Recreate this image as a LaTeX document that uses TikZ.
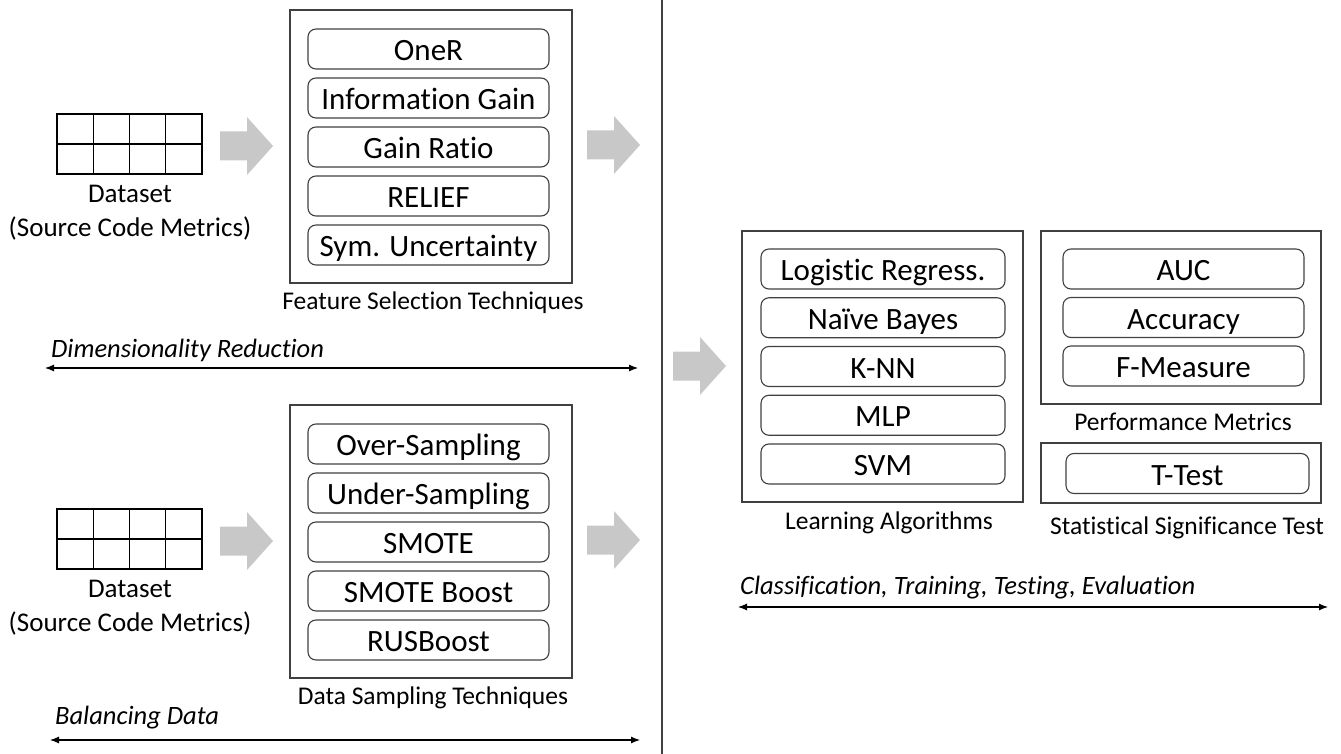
\documentclass[tikz,border=0pt]{standalone}
\usepackage{fontspec}
\setmainfont{Carlito}[Ligatures=NoCommon]
\usepackage{tikz}
\usetikzlibrary{arrows.meta}

\definecolor{boxline}{HTML}{404040}
\definecolor{arrowgray}{HTML}{C8C8C8}

\tikzset{
    outerbox/.style={draw=boxline, line width=1.3pt, minimum width=282pt, inner sep=0pt},
    itembox/.style={draw=boxline, line width=1.1pt, rounded corners=8pt,
        minimum width=241pt, minimum height=40pt, inner sep=0pt,
        text height=23pt, text depth=0pt, font=\fontsize{31}{36}\selectfont},
    caption/.style={font=\fontsize{25.5}{30}\selectfont},
    dslabel/.style={align=center, font=\fontsize{27}{34}\selectfont},
    phase/.style={anchor=west, inner sep=0pt, font=\fontsize{26.5}{30}\selectfont\itshape},
    phasespan/.style={{Latex[length=9pt,width=7pt]}-{Latex[length=9pt,width=7pt]}, line width=1.1pt},
    fatarrow/.pic={\fill[arrowgray] (0,-14.5) -- (27,-14.5) -- (27,-29) -- (53,0)
        -- (27,29) -- (27,14.5) -- (0,14.5) -- cycle;},
}

\begin{document}
\begin{tikzpicture}[x=1pt, y=-1pt]
    \useasboundingbox (0,0) rectangle (1341,754);
    % divider
    \coordinate (divtop) at (662,0);
    \coordinate (divbot) at (662,754);
    \draw [boxline, line width=1.1pt] (divtop) -- (divbot);
    % left rows: dataset, arrows, technique box
    \foreach \row/\dy/\name/\title in {1/0/fs/Feature Selection Techniques, 2/395/dsm/Data Sampling Techniques} {%
        \begin{scope}[yshift={-\dy*1pt}]
            % dataset table
            \draw [line width=1.4pt] (57,114) rectangle (202,174);
            \foreach \c in {1,2,3} {%
                \draw [line width=1.4pt] ({57+\c*36.25},114) -- ({57+\c*36.25},174);
            }
            \draw [line width=1.4pt] (57,144) -- (202,144);
            \node [dslabel] (data\row) at (130,213) {Dataset\\(Source Code Metrics)};
            \pic at (220,146) {fatarrow};
            \pic at (587,145) {fatarrow};
            % technique box
            \node [outerbox, minimum height=273pt] (\name box) at (431,146.5) {};
            \node [caption] (\name cap) at (433,303) {\title};
        \end{scope}
    }
    \foreach \t [count=\k from 0] in {OneR, Information Gain, Gain Ratio, RELIEF, Sym. Uncertainty} {%
        \node [itembox] (fs\k) at (428.5,{49+49*\k}) {\t};
    }
    \foreach \t [count=\k from 0] in {Over-Sampling, Under-Sampling, SMOTE, SMOTE Boost, RUSBoost} {%
        \node [itembox] (dsm\k) at (428.5,{444+49*\k}) {\t};
    }
    % right side
    \pic at (673,366) {fatarrow};
    \node [outerbox, minimum width=281pt, minimum height=271pt] (labox) at (882.5,366.5) {};
    \foreach \t [count=\k from 0] in {Logistic Regress., Naïve Bayes, K-NN, MLP, SVM} {%
        \node [itembox, minimum width=244pt] (la\k) at (883,{269+48.75*\k}) {\t};
    }
    \node [caption] (lacap) at (889,523) {Learning Algorithms};
    \node [outerbox, minimum width=280pt, minimum height=173pt] (pmbox) at (1181,317.5) {};
    \foreach \t [count=\k from 0] in {AUC, Accuracy, F-Measure} {%
        \node [itembox] (pm\k) at (1183.5,{269+48.5*\k}) {\t};
    }
    \node [caption] (pmcap) at (1183,422) {Performance Metrics};
    \node [outerbox, minimum width=280pt, minimum height=60pt] (stbox) at (1181,473) {};
    \node [itembox, minimum width=243pt] (ttest) at (1187.5,473.5) {T-Test};
    \node [caption] (stcap) at (1187,528) {Statistical Significance Test};
    % phase spans
    \coordinate (dimL) at (45,368);
    \coordinate (dimR) at (638,368);
    \draw [phasespan] (dimL) -- (dimR);
    \node [phase] (dimtxt) at (51,350) {Dimensionality Reduction};
    \coordinate (balL) at (50,740);
    \coordinate (balR) at (640,740);
    \draw [phasespan] (balL) -- (balR);
    \node [phase] (baltxt) at (55,718) {Balancing Data};
    \coordinate (clsL) at (738,607);
    \coordinate (clsR) at (1328,607);
    \draw [phasespan] (clsL) -- (clsR);
    \node [phase] (clstxt) at (740,588) {Classification, Training, Testing, Evaluation};
\end{tikzpicture}
\end{document}
